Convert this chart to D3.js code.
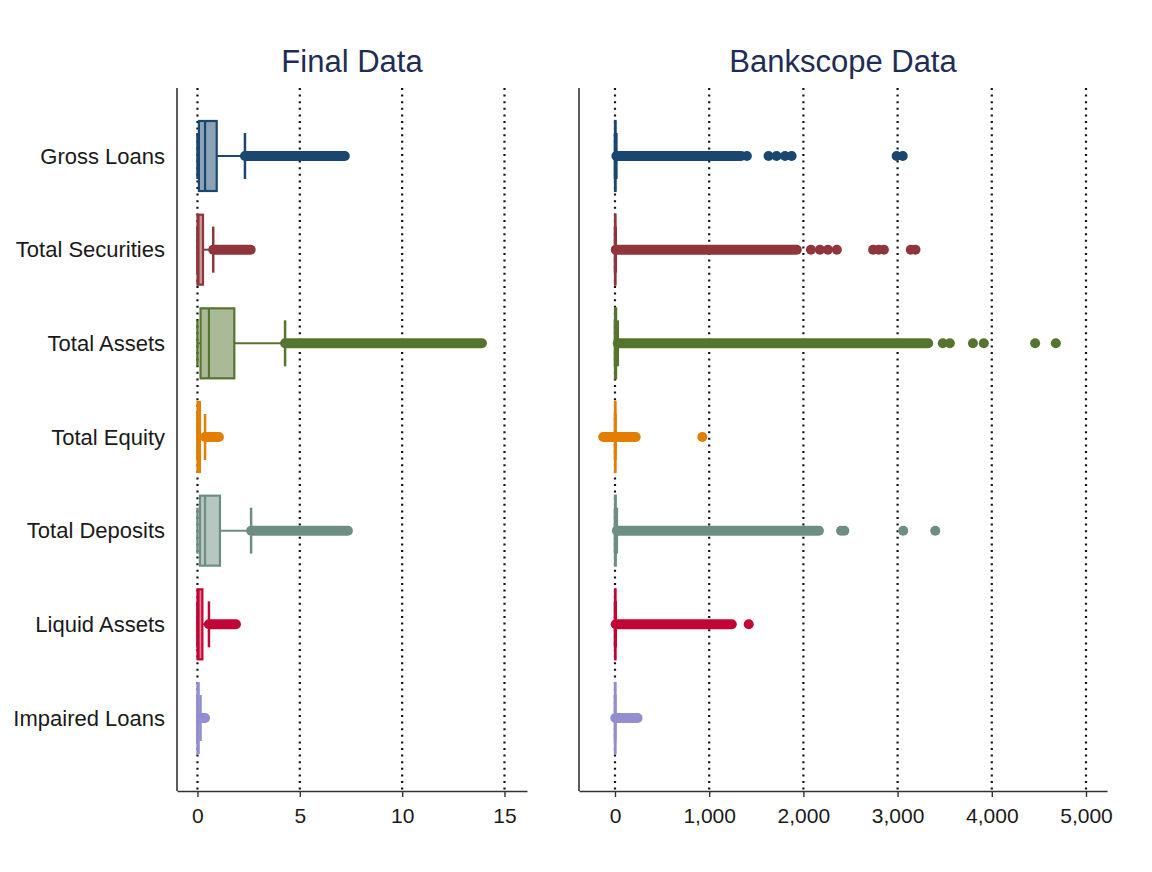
<!DOCTYPE html>
<html>
<head>
<meta charset="utf-8">
<script src="https://cdn.jsdelivr.net/npm/d3@7"></script>
<style>
  html, body { margin: 0; padding: 0; background: #ffffff; }
  svg { display: block; font-family: Arial, "Liberation Sans", sans-serif; }
</style>
</head>
<body>
<svg id="chart" width="1152" height="872"></svg>
<script>
// ---------- DATA ----------
const categories = ["Gross Loans", "Total Securities", "Total Assets", "Total Equity",
                    "Total Deposits", "Liquid Assets", "Impaired Loans"];
const colors = ["#1a476f", "#90353b", "#55752f", "#e37e00", "#6e8e84", "#c10534", "#938dd2"];

// Final Data panel (box plot statistics)
const finalLow    = [0, 0, 0, 0, 0, 0, 0];
const finalQ1     = [0.07, 0, 0.15, 0, 0.12, 0, 0];
const finalMedian = [0.37, 0.05, 0.56, 0.05, 0.37, 0.05, 0.02];
const finalQ3     = [0.94, 0.27, 1.80, 0.12, 1.10, 0.24, 0.06];
const finalHigh   = [2.32, 0.77, 4.28, 0.37, 2.62, 0.56, 0.15];
const finalOutlierBand = [[2.32, 7.2], [0.77, 2.6], [4.28, 13.9], [0.37, 1.05], [2.62, 7.35], [0.56, 1.88], [0.2, 0.37]];
const finalOutlierPoints = [[], [], [], [], [], [], []];
const finalTicks = [0, 5, 10, 15];

// Bankscope Data panel
const bankLow    = [0, 0, 0, 0, 0, 0, 0];
const bankQ1     = [0, 0, 0, 0, 0, 0, 0];
const bankMedian = [2, 1, 4, 1, 3, 1, 0];
const bankQ3     = [6, 3, 12, 2, 8, 3, 1];
const bankHigh   = [15, 8, 30, 5, 20, 8, 3];
const bankOutlierBand = [[15, 1340], [8, 1930], [30, 3325], [-125, 220], [20, 2165], [8, 1240], [3, 240]];
const bankOutlierPoints = [
  [1400, 1630, 1715, 1805, 1875, 2990, 3055],
  [2080, 2175, 2260, 2355, 2740, 2800, 2855, 3140, 3190],
  [3480, 3555, 3800, 3915, 4460, 4680],
  [927],
  [2400, 2435, 3060, 3400],
  [1420],
  []
];
const bankTicks = [0, 1000, 2000, 3000, 4000, 5000];

// ---------- LAYOUT ----------
const svg = d3.select("#chart");
const plotTop = 88, plotBottom = 791;
const y = d3.scalePoint().domain(categories).range([156, 718]);
const boxHalf = 35, capHalf = 23, markerR = 5;

const panels = [
  { title: "Final Data", x: d3.scaleLinear().domain([-1, 16.1]).range([177, 527]),
    ticks: finalTicks, fmt: d3.format("d"), showLabels: true,
    low: finalLow, q1: finalQ1, med: finalMedian, q3: finalQ3, high: finalHigh,
    band: finalOutlierBand, pts: finalOutlierPoints },
  { title: "Bankscope Data", x: d3.scaleLinear().domain([-382, 5223]).range([579, 1107]),
    ticks: bankTicks, fmt: d3.format(",d"), showLabels: false,
    low: bankLow, q1: bankQ1, med: bankMedian, q3: bankQ3, high: bankHigh,
    band: bankOutlierBand, pts: bankOutlierPoints }
];

panels.forEach(p => {
  const g = svg.append("g");
  const [x0, x1] = p.x.range();

  // title
  g.append("text")
    .attr("x", (x0 + x1) / 2).attr("y", 72)
    .attr("text-anchor", "middle")
    .attr("font-size", 31).attr("fill", "#1e2d55")
    .text(p.title);

  // dotted gridlines
  g.selectAll("line.grid").data(p.ticks).join("line")
    .attr("class", "grid")
    .attr("x1", d => p.x(d)).attr("x2", d => p.x(d))
    .attr("y1", plotTop).attr("y2", plotBottom)
    .attr("stroke", "#111").attr("stroke-width", 2.2)
    .attr("stroke-dasharray", "2 4.6");

  // x axis
  const axis = d3.axisBottom(p.x).tickValues(p.ticks).tickFormat(p.fmt)
    .tickSizeInner(6).tickSizeOuter(0).tickPadding(11);
  const ax = g.append("g").attr("transform", `translate(0,${plotBottom})`).call(axis);
  ax.select(".domain").attr("stroke", "#333").attr("stroke-width", 1.6);
  ax.selectAll(".tick line").attr("stroke", "#333").attr("stroke-width", 1.4);
  ax.selectAll(".tick text").attr("font-size", 21).attr("fill", "#1a1a1a")
    .attr("font-family", "Arial, 'Liberation Sans', sans-serif");

  // y axis line
  g.append("line")
    .attr("x1", x0).attr("x2", x0).attr("y1", plotTop).attr("y2", plotBottom)
    .attr("stroke", "#333").attr("stroke-width", 1.6);

  if (p.showLabels) {
    g.selectAll("text.cat").data(categories).join("text")
      .attr("class", "cat")
      .attr("x", 165).attr("y", d => y(d))
      .attr("dy", "0.35em")
      .attr("text-anchor", "end")
      .attr("font-size", 22).attr("fill", "#1a1a1a")
      .text(d => d);
  }

  categories.forEach((c, i) => {
    const cy = y(c), col = colors[i];
    const gg = g.append("g");
    // outlier dense band
    gg.append("line")
      .attr("x1", p.x(p.band[i][0])).attr("x2", p.x(p.band[i][1]))
      .attr("y1", cy).attr("y2", cy)
      .attr("stroke", col).attr("stroke-width", markerR * 2)
      .attr("stroke-linecap", "round");
    // individual outliers
    gg.selectAll("circle").data(p.pts[i]).join("circle")
      .attr("cx", d => p.x(d)).attr("cy", cy).attr("r", markerR)
      .attr("fill", col);
    // whiskers
    gg.append("line")
      .attr("x1", p.x(p.low[i])).attr("x2", p.x(p.q1[i]))
      .attr("y1", cy).attr("y2", cy).attr("stroke", col).attr("stroke-width", 2);
    gg.append("line")
      .attr("x1", p.x(p.q3[i])).attr("x2", p.x(p.high[i]))
      .attr("y1", cy).attr("y2", cy).attr("stroke", col).attr("stroke-width", 2);
    // caps
    [p.low[i], p.high[i]].forEach(v => {
      gg.append("line")
        .attr("x1", p.x(v)).attr("x2", p.x(v))
        .attr("y1", cy - capHalf).attr("y2", cy + capHalf)
        .attr("stroke", col).attr("stroke-width", 2.5);
    });
    // box
    gg.append("rect")
      .attr("x", p.x(p.q1[i])).attr("y", cy - boxHalf)
      .attr("width", Math.max(0.5, p.x(p.q3[i]) - p.x(p.q1[i])))
      .attr("height", boxHalf * 2)
      .attr("fill", col).attr("fill-opacity", 0.5)
      .attr("stroke", col).attr("stroke-width", 2.2);
    // median
    gg.append("line")
      .attr("x1", p.x(p.med[i])).attr("x2", p.x(p.med[i]))
      .attr("y1", cy - boxHalf).attr("y2", cy + boxHalf)
      .attr("stroke", col).attr("stroke-width", 2.2);
  });
});
</script>
</body>
</html>
